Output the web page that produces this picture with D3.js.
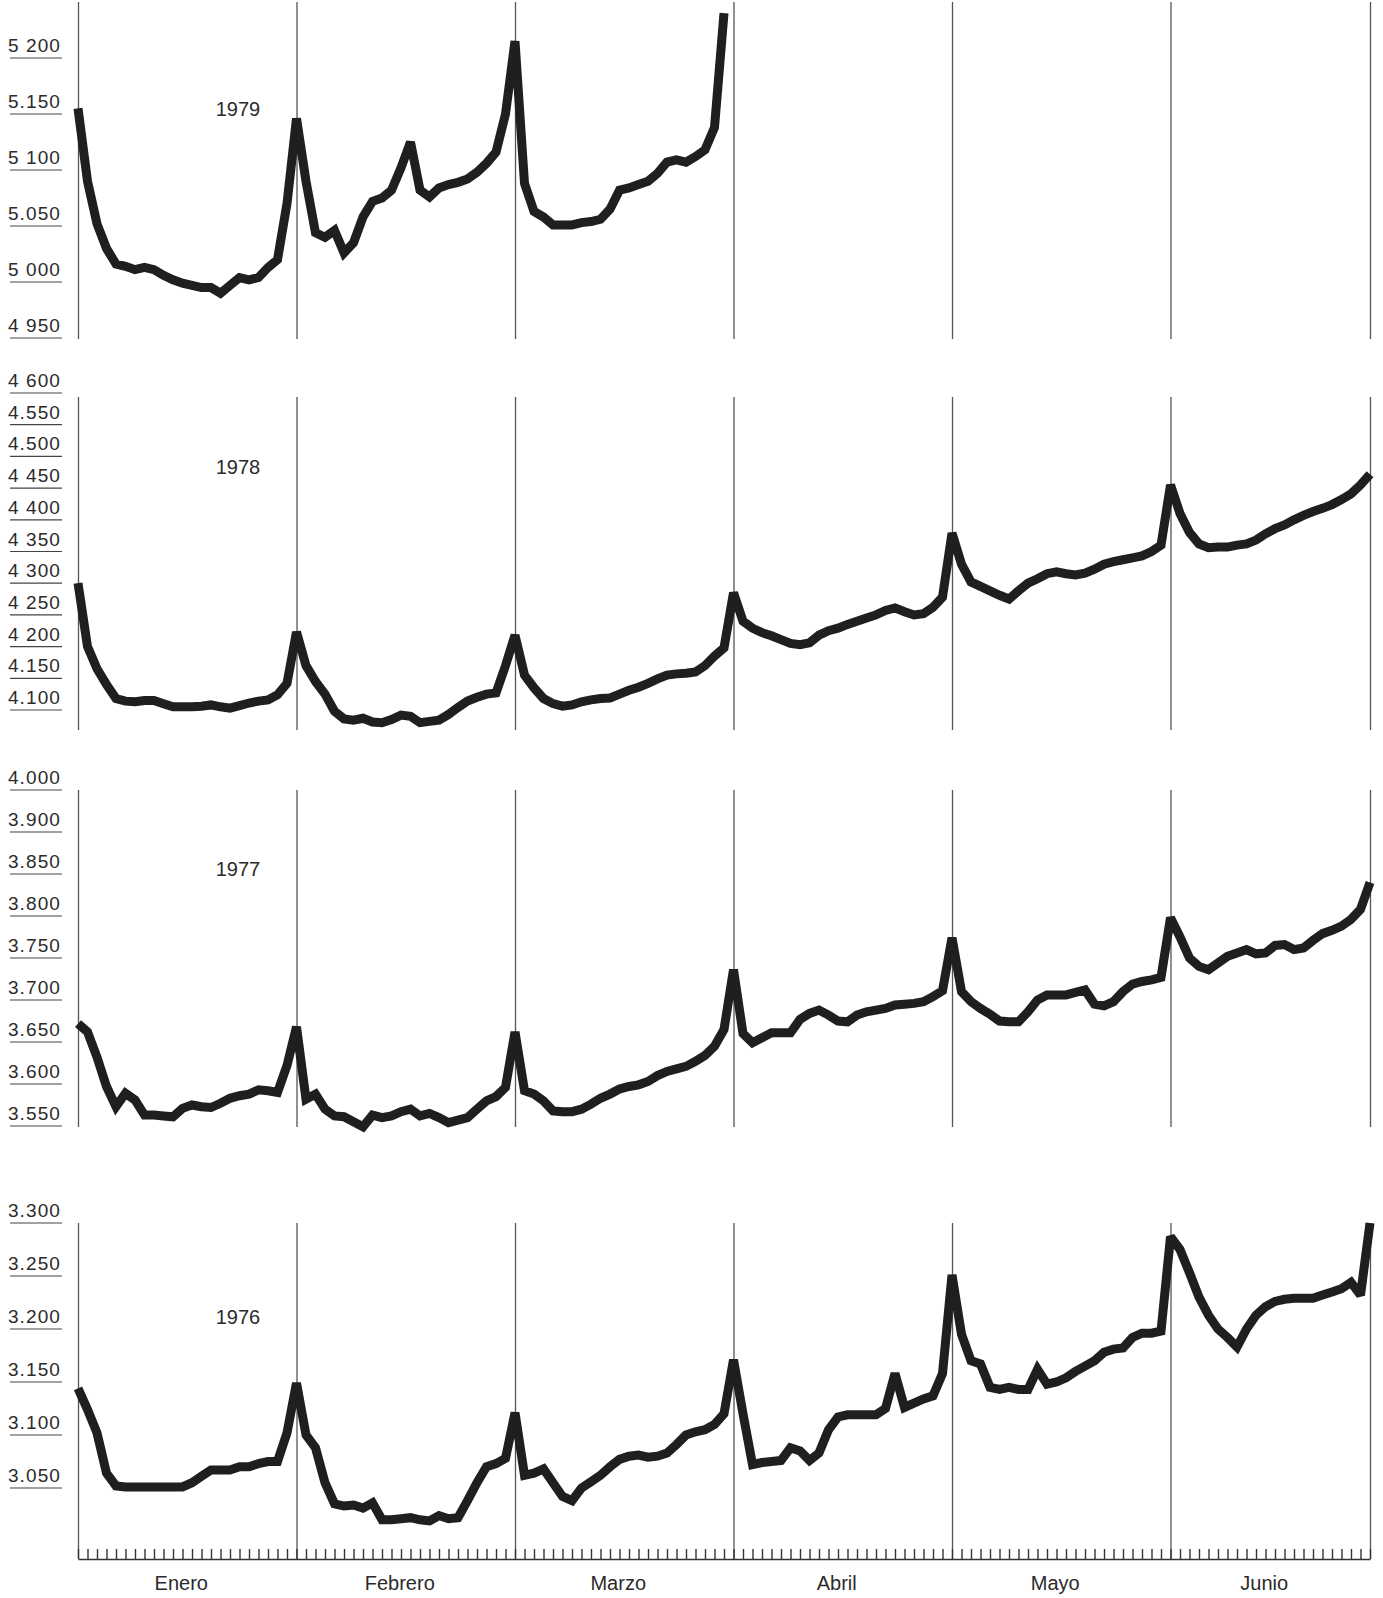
<!DOCTYPE html>
<html>
<head>
<meta charset="utf-8">
<script src="https://cdn.jsdelivr.net/npm/d3@7"></script>
<style>
  html, body { margin: 0; padding: 0; background: #fff; }
  svg { display: block; }
  .ylab, .year, .month { font-family: "Liberation Sans", Arial, sans-serif; fill: #2b2b2b; }
</style>
</head>
<body>
<div class="container"></div>
<script>

// months on the x axis and the day index where each one starts
var months = ["Enero", "Febrero", "Marzo", "Abril", "Mayo", "Junio"];
var monthBreaks = [0, 23, 46, 69, 92, 115, 136];

var years = ["1979", "1978", "1977", "1976"];

// one value per working day
var v1979 = [
    5155, 5090, 5052, 5030, 5016, 5014, 5011, 5013, 5011, 5006,
    5002, 4999, 4997, 4995, 4995, 4990, 4997, 5004, 5002, 5004,
    5013, 5020, 5070, 5146, 5090, 5044, 5040, 5046, 5026, 5035,
    5058, 5072, 5075, 5082, 5102, 5125, 5082, 5076, 5084, 5087,
    5089, 5092, 5098, 5106, 5116, 5150, 5215, 5088, 5063, 5058,
    5051, 5051, 5051, 5053, 5054, 5056, 5065, 5082, 5084, 5087,
    5090, 5097, 5107, 5109, 5107, 5112, 5118, 5138, 5240
];

var v1978 = [
    4300, 4200, 4165, 4140, 4118, 4114, 4113, 4115, 4115, 4110,
    4105, 4105, 4105, 4106, 4108, 4105, 4103, 4107, 4111, 4114,
    4116, 4124, 4142, 4223, 4170, 4145, 4125, 4098, 4086, 4084,
    4087, 4081, 4080, 4085, 4092, 4090, 4080, 4082, 4084, 4093,
    4104, 4114, 4120, 4125, 4127, 4170, 4218, 4155, 4135, 4118,
    4110, 4106, 4108, 4113, 4116, 4118, 4119, 4125, 4131, 4136,
    4142, 4149, 4155, 4157, 4158, 4160, 4170, 4185, 4198, 4285,
    4240, 4229, 4222, 4217, 4211, 4205, 4203, 4206, 4218, 4225,
    4229, 4235, 4240, 4245, 4250, 4257, 4261, 4255, 4250, 4252,
    4262, 4278, 4379, 4330, 4302, 4295, 4288, 4281, 4275, 4288,
    4300, 4307, 4315, 4318, 4315, 4313, 4316, 4322, 4330, 4334,
    4337, 4340, 4343, 4350, 4360, 4455, 4410, 4380, 4362, 4356,
    4357, 4357, 4360, 4362, 4368, 4378, 4386, 4392, 4400, 4407,
    4413, 4418, 4424, 4432, 4441, 4455, 4472
];

var v1977 = [
    3672, 3662, 3632, 3597, 3573, 3589, 3581, 3563, 3563, 3562,
    3561, 3571, 3575, 3573, 3572, 3577, 3583, 3586, 3588, 3593,
    3592, 3590, 3622, 3668, 3582, 3588, 3570, 3562, 3561, 3555,
    3549, 3563, 3560, 3562, 3567, 3570, 3562, 3565, 3560, 3554,
    3557, 3560, 3570, 3580, 3585, 3596, 3662, 3592, 3588, 3580,
    3568, 3567, 3567, 3570, 3576, 3583, 3588, 3594, 3597, 3599,
    3603, 3610, 3615, 3618, 3621, 3627, 3634, 3645, 3665, 3736,
    3660, 3649, 3655, 3661, 3661, 3661, 3677, 3684, 3688, 3682,
    3675, 3674, 3682, 3686, 3688, 3690, 3694, 3695, 3696, 3698,
    3704, 3711, 3774, 3710, 3698, 3690, 3683, 3675, 3674, 3674,
    3686, 3700, 3706, 3706, 3706, 3709, 3712, 3695, 3693, 3698,
    3710, 3719, 3722, 3724, 3727, 3798, 3775, 3750, 3740, 3736,
    3744, 3752, 3756, 3760, 3755, 3756, 3765, 3766, 3760, 3762,
    3771, 3779, 3783, 3788, 3796, 3808, 3840
];

var v1976 = [
    3144, 3124, 3102, 3064, 3052, 3051, 3051, 3051, 3051, 3051,
    3051, 3051, 3055, 3061, 3067, 3067, 3067, 3070, 3070, 3073,
    3075, 3075, 3102, 3149, 3100, 3088, 3055, 3035, 3033, 3034,
    3031, 3036, 3020, 3020, 3021, 3022, 3020, 3019, 3024, 3021,
    3022, 3038, 3055, 3070, 3073, 3078, 3121, 3062, 3064, 3068,
    3055, 3042, 3038, 3050, 3056, 3062, 3070, 3077, 3080, 3081,
    3079, 3080, 3083, 3091, 3100, 3103, 3105, 3110, 3120, 3171,
    3120, 3072, 3074, 3075, 3076, 3088, 3085, 3076, 3083, 3105,
    3117, 3119, 3119, 3119, 3119, 3125, 3158, 3126, 3130, 3134,
    3137, 3158, 3251, 3195, 3170, 3167, 3145, 3143, 3145, 3143,
    3143, 3162, 3148, 3150, 3154, 3160, 3165, 3170, 3178, 3181,
    3182, 3192, 3196, 3196, 3198, 3287, 3275, 3253, 3230, 3213,
    3200, 3192, 3183, 3200, 3213, 3221, 3226, 3228, 3229, 3229,
    3229, 3232, 3235, 3238, 3244, 3232, 3300
];

// y tick values and the labels as printed (spaces and dots as in the original)
var ticks1979 = [4950, 5000, 5050, 5100, 5150, 5200];
var labels1979 = ["4 950", "5 000", "5.050", "5 100", "5.150", "5 200"];
var ticks1978 = [4100, 4150, 4200, 4250, 4300, 4350, 4400, 4450, 4500, 4550, 4600];
var labels1978 = ["4.100", "4.150", "4 200", "4 250", "4 300", "4 350", "4 400", "4 450", "4.500", "4.550", "4 600"];
var ticks1977 = [3550, 3600, 3650, 3700, 3750, 3800, 3850, 3900, 4000];
var labels1977 = ["3.550", "3.600", "3.650", "3.700", "3.750", "3.800", "3.850", "3.900", "4.000"];
var ticks1976 = [3050, 3100, 3150, 3200, 3250, 3300];
var labels1976 = ["3.050", "3.100", "3.150", "3.200", "3.250", "3.300"];

//layout
var config = {
    width: 1383,
    height: 1598,
    x0: 78,
    x1: 1370,
    axis_y: 1559,
    panels: [
        { values: v1979, ticks: ticks1979, labels: labels1979, domain: [4950, 5250], range: [338, 2], top: 2, bottom: 339, yearY: 116 },
        { values: v1978, ticks: ticks1978, labels: labels1978, domain: [4100, 4600], range: [710, 393], top: 397, bottom: 730, yearY: 474 },
        // the top label (4.000) sits closer than the rest, so this one is piecewise
        { values: v1977, ticks: ticks1977, labels: labels1977, domain: [3550, 3900, 4000], range: [1126, 832, 790], top: 790, bottom: 1127, yearY: 876 },
        { values: v1976, ticks: ticks1976, labels: labels1976, domain: [3050, 3300], range: [1488, 1223], top: 1223, bottom: 1559, yearY: 1324 }
    ]
};

var svg = d3.select(".container").append("svg")
    .attr("width", config.width)
    .attr("height", config.height);

svg.append("rect")
    .attr("width", config.width)
    .attr("height", config.height)
    .attr("fill", "#fff");

var x = d3.scaleLinear()
    .domain([0, monthBreaks[monthBreaks.length - 1]])
    .range([config.x0, config.x1]);

config.panels.forEach((p, k) => {
    var y = d3.scaleLinear().domain(p.domain).range(p.range);
    var g = svg.append("g").attr("class", "panel");

    // month separators
    g.selectAll("line.sep")
        .data(monthBreaks)
        .join("line")
        .attr("class", "sep")
        .attr("x1", (d) => x(d) + 0.5)
        .attr("x2", (d) => x(d) + 0.5)
        .attr("y1", p.top)
        .attr("y2", p.bottom)
        .attr("stroke", "#555")
        .attr("stroke-width", 1.3);

    // y labels with the little rule under each one
    g.selectAll("line.rule")
        .data(p.ticks)
        .join("line")
        .attr("class", "rule")
        .attr("x1", 10)
        .attr("x2", 62)
        .attr("y1", (d) => y(d))
        .attr("y2", (d) => y(d))
        .attr("stroke", "#444")
        .attr("stroke-width", 1.2);

    g.selectAll("text.ylab")
        .data(p.ticks)
        .join("text")
        .attr("class", "ylab")
        .attr("x", 61)
        .attr("y", (d) => y(d) - 6)
        .attr("text-anchor", "end")
        .attr("font-size", 19)
        .attr("letter-spacing", 1.1)
        .text((d, i) => p.labels[i]);

    g.append("text")
        .attr("class", "year")
        .attr("x", 238)
        .attr("y", p.yearY)
        .attr("text-anchor", "middle")
        .attr("font-size", 20)
        .text(years[k]);

    var line = d3.line()
        .x((d, i) => x(i))
        .y((d) => y(d));

    g.append("path")
        .datum(p.values)
        .attr("d", line)
        .attr("fill", "none")
        .attr("stroke", "#1f1f1f")
        .attr("stroke-width", 9)
        .attr("stroke-linejoin", "miter")
        .attr("stroke-miterlimit", 2.5);
});

// bottom axis: one small tick per day
var axis = d3.axisBottom(x)
    .tickValues(d3.range(0, monthBreaks[monthBreaks.length - 1] + 1))
    .tickSizeInner(-10)
    .tickSizeOuter(0)
    .tickFormat("");

var ax = svg.append("g")
    .attr("transform", `translate(0,${config.axis_y})`)
    .call(axis);
ax.select(".domain").attr("stroke", "#333").attr("stroke-width", 1.3);
ax.selectAll(".tick line").attr("stroke", "#333").attr("stroke-width", 1.4);

svg.selectAll("text.month")
    .data(months)
    .join("text")
    .attr("class", "month")
    .attr("x", (d, i) => (x(monthBreaks[i]) + x(monthBreaks[i + 1])) / 2 - 6)
    .attr("y", 1590)
    .attr("text-anchor", "middle")
    .attr("font-size", 20)
    .text((d) => d);

</script>
</body>
</html>
